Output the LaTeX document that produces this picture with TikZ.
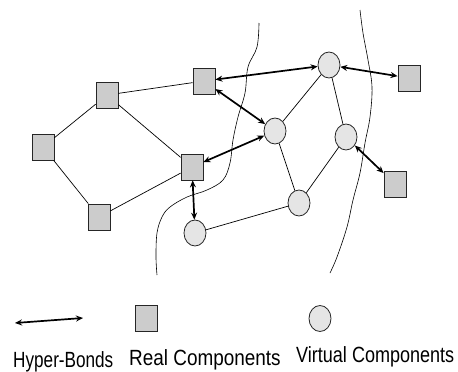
\documentclass[tikz,border=0pt]{standalone}
\usepackage{fontspec}
\setmainfont{Liberation Sans}
\usetikzlibrary{arrows.meta,shapes.geometric}
\begin{document}
\begin{tikzpicture}[x=1pt,y=-1pt,
  real/.style={draw=black!85,line width=0.8pt,fill=black!20,minimum width=22pt,minimum height=26pt,inner sep=0pt,rectangle},
  virt/.style={draw=black!85,line width=0.8pt,fill=black!10,ellipse,minimum width=22pt,minimum height=26pt,inner sep=0pt},
  link/.style={line width=0.7pt},
  bond/.style={line width=1.7pt,{Stealth[length=7pt,width=6pt]}-{Stealth[length=7pt,width=6pt]}},
  border/.style={line width=0.6pt},
  lbl/.style={font=\fontsize{22}{24}\selectfont,inner sep=0pt,anchor=base west}]
\useasboundingbox (0,0) rectangle (458,372);
% boundaries
\draw[border] plot[smooth,tension=0.6] coordinates {(259,23) (257,47) (248,67) (245,93) (238,117) (233,140) (230,163) (223,180) (207,190) (187,197) (170,207) (162,217) (157,233) (156,257) (157,275)};
\draw[border] plot[smooth,tension=0.6] coordinates {(360,10) (363,33) (368,60) (372,87) (370,117) (365,143) (360,173) (353,200) (347,227) (337,257) (330,273)};
% real components
\node[real] (s1) at (107,95) {};
\node[real] (s2) at (204,81) {};
\node[real] (s3) at (43,147) {};
\node[real] (s4) at (192,167) {};
\node[real] (s5) at (99,217) {};
\node[real] (s6) at (409,78) {};
\node[real] (s7) at (395,184) {};
% virtual components
\node[virt] (c1) at (329,65) {};
\node[virt] (c2) at (275,131) {};
\node[virt] (c3) at (346,137) {};
\node[virt] (c4) at (299,203) {};
\node[virt] (c5) at (195,233) {};
% links
\draw[link] (s1) -- (s2);
\draw[link] (s1) -- (s3);
\draw[link] (s1) -- (s4);
\draw[link] (s3) -- (s5);
\draw[link] (s5) -- (s4);
\draw[link] (c1) -- (c2);
\draw[link] (c1) -- (c3);
\draw[link] (c2) -- (c4);
\draw[link] (c3) -- (c4);
\draw[link] (c4) -- (c5);
% hyper-bonds
\draw[bond] (s2) -- (c1);
\draw[bond] (s2) -- (c2);
\draw[bond] (s4) -- (c2);
\draw[bond] (s4) -- (c5);
\draw[bond] (c1) -- (s6);
\draw[bond] (c3) -- (s7);
% legend
\coordinate (la) at (15,323);
\coordinate (lb) at (83,318);
\draw[bond] (la) -- (lb);
\node[real] (lr) at (146,318.5) {};
\node[virt] (lv) at (320,318.5) {};
\node[lbl] (t1) at (13,367) {\scalebox{0.78}[1]{Hyper-Bonds}};
\node[lbl] (t2) at (129,365) {\scalebox{0.86}[1]{Real Components}};
\node[lbl] (t3) at (296,362) {\scalebox{0.82}[1]{Virtual Components}};
\end{tikzpicture}
\end{document}
